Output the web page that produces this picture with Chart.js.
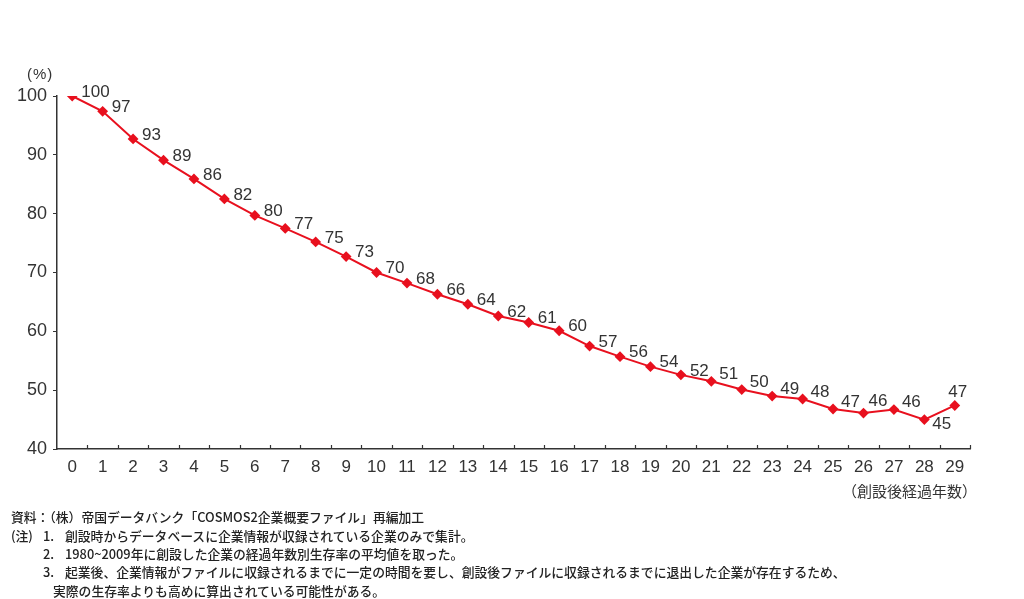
<!DOCTYPE html>
<html>
<head>
<meta charset="utf-8">
<script src="https://cdn.jsdelivr.net/npm/chart.js@4"></script>
<style>
  html, body { margin: 0; padding: 0; background: #fff; }
  #wrap { position: relative; width: 1024px; height: 599px; overflow: hidden; }
  canvas { position: absolute; left: 0; top: 0; }
  .t { position: absolute; color: #2a2a2a; white-space: nowrap; font-family: "Noto Sans CJK JP", sans-serif; }
  .note { font-size: 12.8px; line-height: 14px; font-weight: 500; color: #222; }
</style>
</head>
<body>
<div id="wrap">
  <canvas id="c" width="1024" height="599"></canvas>
  <div class="t" style="left:27px;top:65px;font-size:15px;letter-spacing:1px;font-family:'Liberation Sans',Arial,sans-serif;color:#333;">(%)</div>
  <div class="t" style="right:47px;top:480px;font-size:15px;color:#333;">（創設後経過年数）</div>
  <div class="t note" style="left:11px;top:510px;">資料：（株）帝国データバンク「COSMOS2企業概要ファイル」再編加工</div>
  <div class="t note" style="left:11px;top:529px;">(注)</div>
  <div class="t note" style="left:43px;top:529px;">1.</div>
  <div class="t note" style="left:65px;top:529px;">創設時からデータベースに企業情報が収録されている企業のみで集計。</div>
  <div class="t note" style="left:43px;top:547px;">2.</div>
  <div class="t note" style="left:65px;top:547px;">1980~2009年に創設した企業の経過年数別生存率の平均値を取った。</div>
  <div class="t note" style="left:43px;top:565px;">3.</div>
  <div class="t note" style="left:65px;top:565px;">起業後、企業情報がファイルに収録されるまでに一定の時間を要し、創設後ファイルに収録されるまでに退出した企業が存在するため、</div>
  <div class="t note" style="left:53px;top:584px;">実際の生存率よりも高めに算出されている可能性がある。</div>
</div>
<script>
const years = ['0','1','2','3','4','5','6','7','8','9','10','11','12','13','14','15','16','17','18','19','20','21','22','23','24','25','26','27','28','29'];
const survival = [100, 97.4, 92.7, 89.1, 85.9, 82.5, 79.7, 77.5, 75.2, 72.7, 70.0, 68.2, 66.3, 64.6, 62.6, 61.5, 60.1, 57.5, 55.7, 54.0, 52.6, 51.5, 50.1, 49.0, 48.5, 46.8, 46.1, 46.7, 45.0, 47.4];
const valueLabels = ['100','97','93','89','86','82','80','77','75','73','70','68','66','64','62','61','60','57','56','54','52','51','50','49','48','47','46','46','45','47'];
const yMin = 40, yMax = 100, yStep = 10;

const AXIS = '#333333';
const RED = '#e8101e';

const labelPlugin = {
  id: 'valueLabels',
  afterDatasetsDraw(chart) {
    const ctx = chart.ctx;
    const meta = chart.getDatasetMeta(0);
    ctx.save();
    ctx.font = '17px "Liberation Sans", Arial, sans-serif';
    ctx.fillStyle = '#333';
    ctx.textBaseline = 'middle';
    meta.data.forEach((pt, i) => {
      let dx = 9, dy = -4, align = 'left';
      if (i >= 21) { dx = 8; dy = -7; }
      if (i === 26) { dx = 5; dy = -12; }
      if (i === 28) { dx = 8; dy = 5; }
      if (i === 29) { dx = 3; dy = -13; align = 'center'; }
      ctx.textAlign = align;
      ctx.fillText(valueLabels[i], pt.x + dx, pt.y + dy);
    });
    ctx.restore();
  }
};

const xTickPlugin = {
  id: 'xInwardTicks',
  afterDraw(chart) {
    const xs = chart.scales.x;
    const ctx = chart.ctx;
    const n = years.length;
    const step = (xs.right - xs.left) / n;
    ctx.save();
    ctx.strokeStyle = AXIS;
    ctx.lineWidth = 1.2;
    ctx.beginPath();
    for (let i = 1; i <= n; i++) {
      const x = Math.round(xs.left + i * step) + 0.5;
      ctx.moveTo(x, xs.top);
      ctx.lineTo(x, xs.top - 4);
    }
    ctx.stroke();
    ctx.restore();
  }
};

new Chart(document.getElementById('c'), {
  type: 'line',
  data: {
    labels: years,
    datasets: [{
      data: survival,
      borderColor: RED,
      backgroundColor: RED,
      borderWidth: 2,
      pointStyle: 'rectRot',
      pointRadius: 4,
      pointBackgroundColor: RED,
      pointBorderColor: RED,
      tension: 0
    }]
  },
  options: {
    responsive: false,
    animation: false,
    devicePixelRatio: 1,
    layout: { padding: { left: 0, right: 54, top: 96, bottom: 120 } },
    plugins: { legend: { display: false }, tooltip: { enabled: false } },
    scales: {
      x: {
        offset: true,
        afterFit(s) { s.height = 30; },
        grid: { display: true, drawOnChartArea: false, drawTicks: false, color: 'rgba(0,0,0,0)' },
        border: { display: true, color: AXIS, width: 1.5 },
        ticks: { color: '#333', font: { size: 17, family: '"Liberation Sans", Arial, sans-serif' }, padding: 8, maxRotation: 0, autoSkip: false }
      },
      y: {
        min: yMin, max: yMax,
        afterFit(s) { s.width = 57; },
        grid: { drawOnChartArea: false, drawTicks: true, tickLength: 4, color: AXIS },
        border: { display: true, color: AXIS, width: 1.5 },
        ticks: { stepSize: yStep, color: '#333', font: { size: 18, family: '"Liberation Sans", Arial, sans-serif' }, padding: 6 }
      }
    }
  },
  plugins: [labelPlugin, xTickPlugin]
});
</script>
</body>
</html>
